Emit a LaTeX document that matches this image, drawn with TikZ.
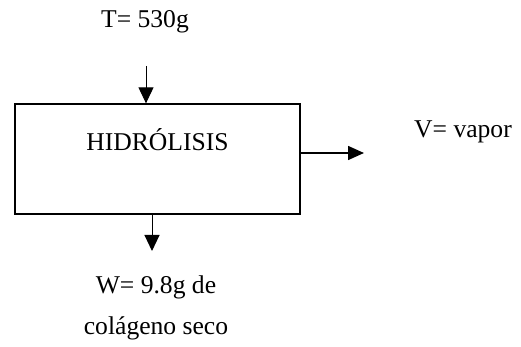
\documentclass[tikz,border=0pt]{standalone}
\usepackage{fontspec}
\setmainfont{Liberation Serif}
\usetikzlibrary{arrows.meta,positioning,calc}
\tikzset{
  proc/.style  = {draw, line width=0.65pt, rectangle, minimum width=142.5pt,
                  minimum height=55pt, inner sep=0pt},
  lbl/.style   = {align=center, inner sep=0pt},
  flow/.style  = {-{Triangle[length=8pt,width=7.5pt]}, line width=0.5pt},
  flowr/.style = {-{Triangle[length=8pt,width=7pt]}, line width=0.8pt},
}
\begin{document}
\begin{tikzpicture}[x=0.5pt,y=-0.5pt,font=\fontsize{12.8}{20.5}\selectfont]
\useasboundingbox (0,0) rectangle (521,347);
\node[proc] (hidro) at (157.5,159) {};
\node[lbl] (hname) at ($(hidro.center)+(0,-19)$) {HIDRÓLISIS};
% corrientes
\node[lbl] (tlbl) at (145,22) {T= 530g};
\coordinate (tin) at (146,66);
\coordinate (vout) at (364,153);
\coordinate (wout) at (152,251);
\node[lbl] (vlbl) at (463,132) {V= vapor};
\node[lbl] (wlbl) at (156,307.5) {W= 9.8g de\\colágeno seco};
\draw[flow] (tin) -- (tin |- hidro.north);
\draw[flowr] (hidro.east |- vout) -- (vout);
\draw[flow] (wout |- hidro.south) -- (wout);
\end{tikzpicture}
\end{document}
